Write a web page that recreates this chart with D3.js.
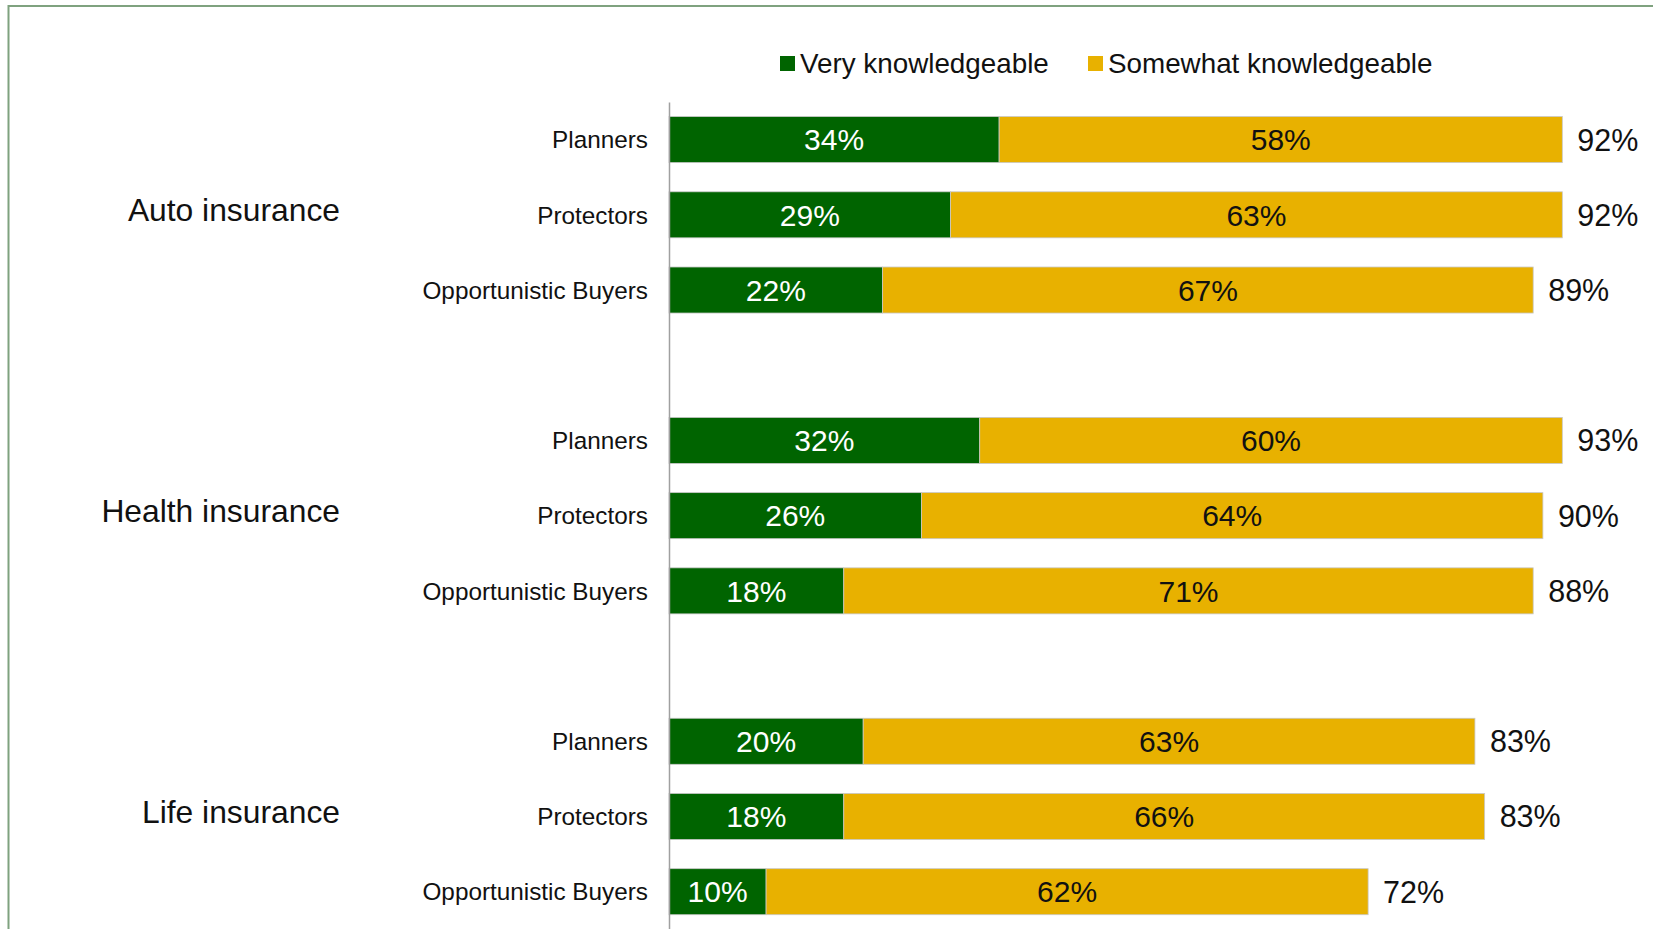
<!DOCTYPE html>
<html>
<head>
<meta charset="utf-8">
<script src="https://cdn.jsdelivr.net/npm/d3@7"></script>
<style>
  html, body { margin: 0; padding: 0; background: #fff; }
  svg { display: block; font-family: "Liberation Sans", Arial, sans-serif; }
</style>
</head>
<body>
<svg id="chart" width="1653" height="929"></svg>
<script>
// ---- Data ----
const groups = ["Auto insurance", "Health insurance", "Life insurance"];
const segments = ["Planners", "Protectors", "Opportunistic Buyers"];
const seriesNames = ["Very knowledgeable", "Somewhat knowledgeable"];
const veryKnowledgeable = [34, 29, 22, 32, 26, 18, 20, 18, 10];
const somewhatKnowledgeable = [58, 63, 67, 60, 64, 71, 63, 66, 62];
const totals = [92, 92, 89, 93, 90, 88, 83, 83, 72];
const colors = ["#006400", "#E8B100"];

// ---- Layout ----
const svg = d3.select("#chart");
const W = 1653, H = 929;
const plotLeft = 669, plotRight = 1640, plotTop = 102, plotBottom = 929.3;

// frame
svg.append("rect")
  .attr("x", 8.5).attr("y", 6).attr("width", W + 20).attr("height", H + 20)
  .attr("fill", "none").attr("stroke", "#7FA27F").attr("stroke-width", 2);

// slots: each group has 3 rows, separated by an empty slot
const slotKeys = [];
groups.forEach((g, gi) => {
  if (gi > 0) slotKeys.push("gap" + gi);
  segments.forEach(s => slotKeys.push(g + "|" + s));
});

const y = d3.scaleBand().domain(slotKeys).range([plotTop, plotBottom])
  .paddingInner(0.388).paddingOuter(0.194);
const x = d3.scaleLinear().domain([0, 100]).range([plotLeft, plotRight]);

const rows = [];
groups.forEach((g, gi) => segments.forEach((s, si) => {
  const i = gi * segments.length + si;
  rows.push({ key: g + "|" + s, group: g, seg: s,
              v: [veryKnowledgeable[i], somewhatKnowledgeable[i]], total: totals[i] });
}));

// bars
rows.forEach(r => {
  let acc = 0;
  r.v.forEach((val, k) => {
    const x0 = x(acc), x1 = x(acc + val);
    svg.append("rect")
      .attr("x", x0).attr("y", y(r.key))
      .attr("width", x1 - x0).attr("height", y.bandwidth())
      .attr("fill", colors[k])
      .attr("stroke", "#c8c8c8").attr("stroke-width", 0.8);
    svg.append("text")
      .attr("x", (x0 + x1) / 2).attr("y", y(r.key) + y.bandwidth() / 2)
      .attr("dy", "0.36em").attr("text-anchor", "middle")
      .attr("font-size", 30).attr("fill", k === 0 ? "#ffffff" : "#111")
      .text(val + "%");
    acc += val;
  });
  // total label
  svg.append("text")
    .attr("x", x(acc) + 15).attr("y", y(r.key) + y.bandwidth() / 2)
    .attr("dy", "0.36em").attr("font-size", 30.5).attr("fill", "#111")
    .text(r.total + "%");
  // row label
  svg.append("text")
    .attr("x", 648).attr("y", y(r.key) + y.bandwidth() / 2)
    .attr("dy", "0.36em").attr("text-anchor", "end")
    .attr("font-size", 24.3).attr("fill", "#111")
    .text(r.seg);
});

// axis (vertical line)
const axis = svg.append("g").attr("transform", `translate(${plotLeft},0)`)
  .call(d3.axisLeft(y).tickSize(0).tickFormat(""));
axis.select(".domain").attr("stroke", "#a0a0a0").attr("stroke-width", 1.5);

// group labels
groups.forEach(g => {
  const mid = g + "|" + segments[1];
  svg.append("text")
    .attr("x", 340).attr("y", y(mid) + y.bandwidth() / 2 - 5)
    .attr("dy", "0.36em").attr("text-anchor", "end")
    .attr("font-size", 31.8).attr("fill", "#111")
    .text(g);
});

// legend
const legendX = [780, 1088];
seriesNames.forEach((name, k) => {
  svg.append("rect")
    .attr("x", legendX[k]).attr("y", 56).attr("width", 15).attr("height", 15)
    .attr("fill", colors[k]);
  svg.append("text")
    .attr("x", legendX[k] + 20).attr("y", 72.5)
    .attr("font-size", 27.8).attr("fill", "#111")
    .text(name);
});
</script>
</body>
</html>
